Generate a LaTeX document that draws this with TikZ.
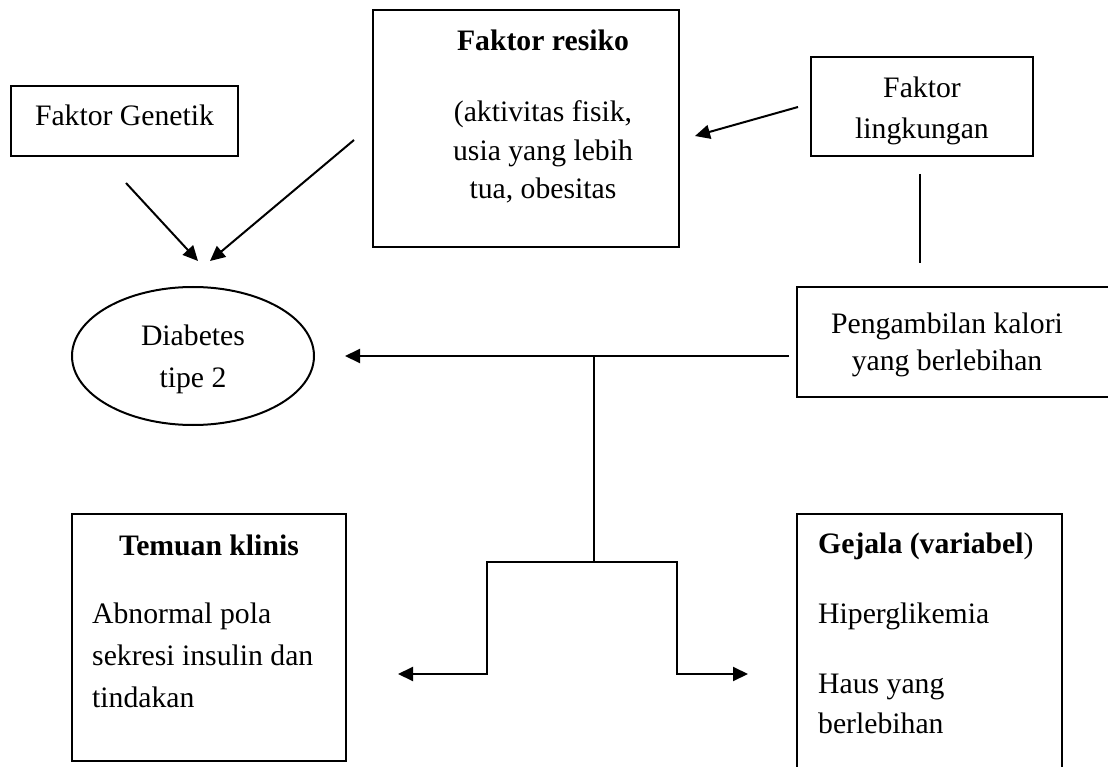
\documentclass[tikz,border=0pt]{standalone}
\usepackage{fontspec}
\setmainfont{Liberation Serif}
\usepackage{tikz}
\usetikzlibrary{positioning,arrows.meta,calc,shapes.geometric}

\begin{document}
\begin{tikzpicture}[
            x=1pt, y=-1pt,
            % Kotak bergaris
            kotak/.style={
                draw=black,
                line width=2pt,
                inner sep=0pt,
                align=center,
                font=\fontsize{29.7}{41}\selectfont
            },
            % Teks di dalam kotak
            isi/.style={
                inner sep=0pt,
                font=\fontsize{29.7}{40}\selectfont
            },
            % Panah dan garis
            panah/.style={-{Triangle[length=15pt,width=14pt]}, line width=2pt},
            garis/.style={line width=2pt}
        ]
            \useasboundingbox (0,0) rectangle (1108,767);
            \clip (0,0) rectangle (1108,767);

            % --- BARIS ATAS ---
            \node[kotak, minimum width=227, minimum height=70, text depth=12pt] (genetik) at (124.5,121) {Faktor Genetik};

            \node[kotak, minimum width=306, minimum height=237] (resiko) at (526,128.5) {};
            \node[isi, align=center, anchor=north, font=\fontsize{29.7}{38.5}\selectfont] (resiko_txt) at (543,29.7)
                {\textbf{Faktor resiko}\\[32.5pt] (aktivitas fisik,\\ usia yang lebih\\ tua, obesitas};

            \node[kotak, minimum width=222, minimum height=99] (lingkungan) at (922,106.5) {};
            \node[isi, align=center, anchor=north, font=\fontsize{29.7}{41}\selectfont] (lingkungan_txt) at (922,76.7)
                {Faktor\\ lingkungan};

            % --- BARIS TENGAH ---
            \node[kotak, ellipse, minimum width=242, minimum height=138] (diabetes) at (193,356) {};
            \node[isi, align=center, anchor=north, font=\fontsize{29.7}{42}\selectfont] (diabetes_txt) at (193,324.7)
                {Diabetes\\ tipe 2};

            \node[kotak, minimum width=323, minimum height=110] (kalori) at (958.5,342) {};
            \node[isi, align=center, anchor=north, font=\fontsize{29.7}{37}\selectfont] (kalori_txt) at (947,312.7)
                {Pengambilan kalori\\ yang berlebihan};

            % --- BARIS BAWAH ---
            \node[kotak, minimum width=274, minimum height=247] (temuan) at (209,637.5) {};
            \node[isi, anchor=base] (temuan_judul) at (209,555) {\textbf{Temuan klinis}};
            \node[isi, align=left, anchor=north west, font=\fontsize{29.7}{42}\selectfont] (temuan_txt) at (92,602.7)
                {Abnormal pola\\ sekresi insulin dan\\ tindakan};

            \node[kotak, minimum width=265, minimum height=286] (gejala) at (929.5,657) {};
            \node[isi, align=left, anchor=north west] (gejala_txt) at (818,532.4)
                {\textbf{Gejala (variabel})\\[30pt] Hiperglikemia\\[30pt] Haus yang\\ berlebihan};

            % --- PANAH ---
            \draw[panah] ($(genetik.south)+(1.5,26)$) -- ($(diabetes.north)+(5,-25)$);
            \draw[panah] ($(resiko.west)+(-18,11.5)$) -- ($(diabetes.north)+(17,-25)$);
            \draw[panah] ($(lingkungan.west)+(-12,0.5)$) -- ($(resiko.east)+(15,7.5)$);
            \draw[garis] ($(lingkungan.south)+(-2,17)$) -- ($(lingkungan.south)+(-2,106)$);

            % garis dari kalori ke diabetes, lalu bercabang ke bawah
            \draw[panah] ($(kalori.west)+(-7,14)$) -- ($(diabetes.east)+(30,0)$);
            \coordinate (cabang) at (594,356);
            \coordinate (simpul) at (594,562);
            \draw[garis] (cabang) -- (simpul);
            \draw[panah] (simpul) -| ($(simpul)+(-107,112)$) -- ($(temuan.east)+(51,36.5)$);
            \draw[panah] (simpul) -| ($(simpul)+(83,112)$) -- ($(gejala.west)+(-48,17)$);

        \end{tikzpicture}
\end{document}
